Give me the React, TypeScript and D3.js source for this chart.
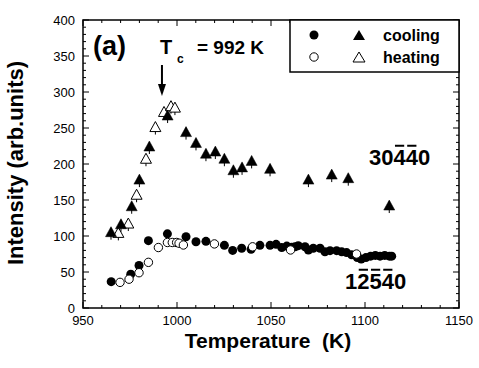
import React from "react";
import * as d3 from "d3";

const W = 479, H = 368;
const M = { left: 83, right: 20, top: 20, bottom: 60 };

const xTicks = [950, 1000, 1050, 1100, 1150];
const yTicks = [0, 50, 100, 150, 200, 250, 300, 350, 400];

// Filled triangles: 30-4-40, cooling
const coolTriT = [964.9, 970.2, 975.9, 980, 985.3, 995, 1004.8, 1010.1, 1015.4, 1020.4, 1025.2, 1030, 1034.6, 1039.7, 1049.5, 1069.9, 1082.3, 1091.1, 1112.9];
const coolTriI = [106, 117, 142, 179, 225, 268, 245, 230, 215, 218, 208, 192, 196, 205, 194, 179, 186, 181, 143];
// Open triangles: 30-4-40, heating
const heatTriT = [968.8, 974.1, 978.5, 983.5, 988.5, 993.1, 996.8, 998.9];
const heatTriI = [105, 118, 158, 208, 252, 273, 281, 279];
// Filled circles: 12-2-5-40, cooling
const coolCircT = [965, 975.4, 979.8, 984.8, 994.9, 1004.8, 1010.1, 1015.4, 1025.2, 1029.6, 1034.4, 1039.4, 1044.1, 1049.5, 1052.7, 1055.7, 1058.4, 1061, 1062.8, 1064.5, 1068.1, 1069.9, 1072.5, 1076.1, 1078.7, 1081.4, 1084.9, 1087.6, 1090.2, 1092.9, 1095.9, 1098, 1100.5, 1103, 1105.5, 1108, 1110.5, 1113, 1114.2];
const coolCircI = [36.6, 47, 59, 93.5, 103, 99, 92, 92.6, 87, 80, 83, 81.5, 87, 87, 88.4, 84, 86, 84.5, 85, 86.6, 85, 80.6, 83, 83, 78, 79.6, 79.6, 78, 77, 74, 70, 68, 70, 72, 73, 72, 73, 72, 72];
// Open circles: 12-2-5-40, heating
const heatCircT = [969.7, 974.5, 979.8, 984.8, 990.1, 994.9, 997.5, 999.8, 1001.1, 1003.4, 1019.9, 1040.2, 1060.4, 1095.5];
const heatCircI = [35.6, 40, 49, 63.4, 84, 91, 91, 91, 90, 87.5, 89, 85, 80.6, 75];

const FONT = "'Liberation Sans', Arial, sans-serif";

function tri(cx: number, cy: number, w = 11, h = 10) {
  return `M${cx},${cy - h / 2}L${cx + w / 2},${cy + h / 2}L${cx - w / 2},${cy + h / 2}Z`;
}

function Overbarred({ x, y, text, bars, fs }: { x: number; y: number; text: string; bars: number[]; fs: number }) {
  const dw = 0.556 * fs;
  const by = y - 0.716 * fs - 3.5;
  return (
    <g>
      <text x={x} y={y} fontSize={fs} fontWeight="bold" fontFamily={FONT}>{text}</text>
      {bars.map((i) => (
        <line key={i} x1={x + i * dw + 1.5} x2={x + (i + 1) * dw - 1.5} y1={by} y2={by} stroke="#000" strokeWidth={2} />
      ))}
    </g>
  );
}

export default function App() {
  const x = d3.scaleLinear().domain([950, 1150]).range([M.left, W - M.right]);
  const y = d3.scaleLinear().domain([0, 400]).range([H - M.bottom, M.top]);
  const x0 = x.range()[0], x1 = x.range()[1];
  const y0 = y.range()[0], y1 = y.range()[1];

  const xMinor = d3.range(950, 1151, 10);
  const yMinor = d3.range(0, 401, 10);

  const tc = x(992);

  return (
    <svg width={W} height={H} style={{ position: "absolute", left: 0, top: 0, background: "#fff" }} fontFamily={FONT}>
      <rect x={0} y={0} width={W} height={H} fill="#fff" />
      {/* ticks */}
      {xMinor.map((v) => {
        const major = v % 50 === 0;
        const l = major ? 6 : 3;
        return (
          <g key={"xt" + v} stroke="#000" strokeWidth={1}>
            <line x1={x(v)} x2={x(v)} y1={y0} y2={y0 - l} />
            <line x1={x(v)} x2={x(v)} y1={y1} y2={y1 + l} />
          </g>
        );
      })}
      {yMinor.map((v) => {
        const major = v % 50 === 0;
        const l = major ? 6 : 3;
        return (
          <g key={"yt" + v} stroke="#000" strokeWidth={1}>
            <line x1={x0} x2={x0 + l} y1={y(v)} y2={y(v)} />
            <line x1={x1} x2={x1 - l} y1={y(v)} y2={y(v)} />
          </g>
        );
      })}
      {xTicks.map((v) => (
        <text key={"xl" + v} x={x(v)} y={y0 + 17} fontSize={13} textAnchor="middle">{v}</text>
      ))}
      {yTicks.map((v) => (
        <text key={"yl" + v} x={x0 - 8} y={y(v)} fontSize={13} textAnchor="end" dominantBaseline="central">{v}</text>
      ))}
      {/* frame */}
      <rect x={x0} y={y1} width={x1 - x0} height={y0 - y1} fill="none" stroke="#000" strokeWidth={1.5} />

      {/* data */}
      {coolCircT.map((t, i) => (
        <circle key={"cc" + i} cx={x(t)} cy={y(coolCircI[i])} r={4.5} fill="#000" />
      ))}
      {heatCircT.map((t, i) => (
        <circle key={"hc" + i} cx={x(t)} cy={y(heatCircI[i])} r={4.2} fill="#fff" stroke="#000" strokeWidth={1} />
      ))}
      {heatTriT.map((t, i) => (
        <g key={"ht" + i}>
          <line x1={x(t)} x2={x(t)} y1={y(heatTriI[i]) - 4} y2={y(heatTriI[i]) + 8} stroke="#000" strokeWidth={1} />
          <path d={tri(x(t), y(heatTriI[i]))} fill="#fff" stroke="#000" strokeWidth={1} />
        </g>
      ))}
      {coolTriT.map((t, i) => (
        <g key={"ct" + i}>
          <line x1={x(t)} x2={x(t)} y1={y(coolTriI[i]) - 4} y2={y(coolTriI[i]) + 8} stroke="#000" strokeWidth={1} />
          <path d={tri(x(t), y(coolTriI[i]))} fill="#000" stroke="#000" strokeWidth={0.5} />
        </g>
      ))}

      {/* legend */}
      <rect x={290} y={y1} width={x1 - 290} height={52} fill="#fff" stroke="#000" strokeWidth={1.5} />
      <circle cx={314} cy={35} r={4.5} fill="#000" />
      <path d={tri(359, 35, 12, 10)} fill="#000" />
      <text x={383} y={41} fontSize={16} fontWeight="bold">cooling</text>
      <circle cx={314} cy={57} r={4.2} fill="#fff" stroke="#000" strokeWidth={1} />
      <path d={tri(359, 57, 12, 10)} fill="#fff" stroke="#000" strokeWidth={1} />
      <text x={383} y={63} fontSize={16} fontWeight="bold">heating</text>

      {/* annotations */}
      <text x={93} y={55} fontSize={27} fontWeight="bold">(a)</text>
      <text x={160} y={54} fontSize={20} fontWeight="bold">T</text>
      <text x={177} y={63} fontSize={12} fontWeight="bold">c</text>
      <text x={197} y={54} fontSize={19} fontWeight="bold">= 992 K</text>
      <line x1={tc} x2={tc} y1={65} y2={86} stroke="#000" strokeWidth={2} />
      <path d={`M${tc - 4},84L${tc + 4},84L${tc},96Z`} fill="#000" />

      <Overbarred x={369} y={165} text="30440" bars={[2, 3]} fs={22} />
      <Overbarred x={345} y={289} text="12540" bars={[1, 2, 3]} fs={22} />

      {/* axis titles */}
      <text x={268} y={348} fontSize={21} fontWeight="bold" textAnchor="middle" style={{ whiteSpace: "pre" }}>{"Temperature  (K)"}</text>
      <text transform={`translate(23,163) rotate(-90)`} fontSize={22} fontWeight="bold" textAnchor="middle">Intensity (arb.units)</text>
    </svg>
  );
}
